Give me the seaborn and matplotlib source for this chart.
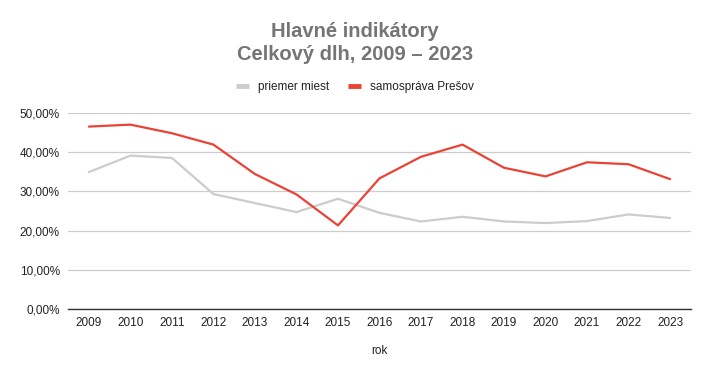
import matplotlib
matplotlib.use("Agg")
import matplotlib.pyplot as plt
import seaborn as sns
import pandas as pd
from matplotlib.ticker import FuncFormatter
from matplotlib.lines import Line2D

years = [str(y) for y in range(2009, 2024)]
priemer_miest = [34.9, 39.1, 38.5, 29.3, 27.0, 24.7, 28.1, 24.5, 22.3, 23.5, 22.3, 21.9, 22.4, 24.1, 23.2]
samosprava_presov = [46.5, 47.0, 44.8, 41.9, 34.4, 29.2, 21.3, 33.3, 38.8, 41.9, 36.0, 33.8, 37.4, 36.9, 33.1]
series_names = ["priemer miest", "samospráva Prešov"]
colors = ["#cccccc", "#ea4335"]

df = pd.concat([
    pd.DataFrame({"rok": years, "val": priemer_miest, "series": series_names[0]}),
    pd.DataFrame({"rok": years, "val": samosprava_presov, "series": series_names[1]}),
])

sns.set_theme(style="white")
plt.rcParams["font.family"] = ["Liberation Sans", "DejaVu Sans"]

fig = plt.figure(figsize=(7.1, 3.8), dpi=100)
ax = fig.add_axes([0.096, 0.187, 0.877, 0.516])
sns.lineplot(data=df, x="rok", y="val", hue="series", palette=colors,
             hue_order=series_names, linewidth=1.6, ax=ax, legend=False, sort=False)

ax.set_xlim(-0.5, len(years) - 0.5)
ax.set_ylim(0, 50)
ax.set_yticks([0, 10, 20, 30, 40, 50])
ax.yaxis.set_major_formatter(FuncFormatter(lambda v, p: f"{v:.2f}".replace(".", ",") + "%"))
ax.grid(axis="y", color="#cccccc", linewidth=0.9)
ax.grid(axis="x", visible=False)
for s in ["top", "right", "left"]:
    ax.spines[s].set_visible(False)
ax.spines["bottom"].set_color("#333333")
ax.spines["bottom"].set_linewidth(1.0)
ax.tick_params(axis="both", length=0, labelsize=8.5, colors="#222222", pad=6)
ax.set_xlabel("rok", fontsize=8.5, color="#222222", labelpad=11)
ax.set_ylabel("")

fig.text(0.5, 0.918, "Hlavné indikátory", ha="center", va="center",
         fontsize=14.5, fontweight="bold", color="#757575")
fig.text(0.5, 0.857, "Celkový dlh, 2009 – 2023", ha="center", va="center",
         fontsize=14.5, fontweight="bold", color="#757575")

handles = [Line2D([0], [0], color=c, linewidth=3.5, solid_capstyle="butt") for c in colors]
fig.legend(handles, series_names, loc="center", bbox_to_anchor=(0.5, 0.772), ncol=2,
           frameon=False, fontsize=8.5, handlelength=1.1, handletextpad=0.8, columnspacing=1.6,
           labelcolor="#222222")

fig.savefig("out.png", dpi=100)
